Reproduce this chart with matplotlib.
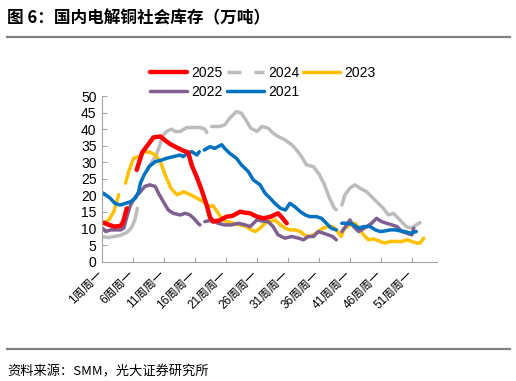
import numpy as np
import matplotlib
matplotlib.use('Agg')
import matplotlib.pyplot as plt
from matplotlib.lines import Line2D

plt.rcParams['font.family'] = ['Liberation Sans', 'Noto Sans CJK SC', 'DejaVu Sans']

nan = np.nan

# week position (1 = week 1) and inventory (10k t)
x_2025 = [0.7, 1.5, 2.5, 3.5, 3.9, 4.5, nan, 6.1, 7.0, 8.0, 8.8, 9.9, 10.9, 11.5, 12.5, 13.6,
          14.4, 15.0, 15.8, 16.6, 17.4, 17.9, 18.4, 19.5, 20.6, 21.5, 22.8, 23.5, 24.4, 25.5,
          26.5, 27.6, 28.9, 29.5, 30.3]
y_2025 = [11.8, 11.2, 10.6, 10.8, 12.0, 16.1, nan, 27.7, 33.0, 35.5, 37.5, 37.8, 36.3, 35.5, 34.5, 33.5,
          33.0, 29.0, 25.5, 21.5, 17.0, 13.5, 12.1, 12.5, 13.6, 13.8, 15.1, 14.8, 14.6, 13.6,
          13.1, 13.5, 14.6, 13.4, 11.6]

x_2024 = [0.6, 1.5, 2.5, 3.5, 4.5, 5.2, 5.8, 6.2, nan,
          7.8, 8.5, 9.2, 9.8, 10.3, 10.9, 11.7, 12.3, 13.1, 14.2, 15.0, 16.3, 17.1, 17.4, nan,
          18.2, 19.5, 20.3, 21.1, 22.2, 23.0, 23.7, 24.5, 25.5, 26.3, 27.3, 28.1, 28.9, 30.0,
          31.1, 31.9, 32.7, 33.5, 34.6, 35.6, 36.4, 37.2, 38.0, 38.3, nan,
          39.2, 39.7, 40.5, 41.3, 42.1, 43.2, 44.0, 44.8, 45.9, 46.7, 47.5, 48.3, 48.8, 49.6,
          50.4, 51.2, 51.8]
y_2024 = [7.5, 7.3, 7.6, 8.0, 8.8, 10.1, 12.6, 16.1, nan,
          27.5, 30.0, 32.0, 35.0, 38.0, 39.3, 40.0, 39.3, 39.3, 40.5, 40.5, 40.5, 40.0, 39.0, nan,
          40.8, 40.8, 41.3, 43.3, 45.3, 44.8, 42.8, 40.3, 39.3, 40.8, 40.3, 38.8, 37.8, 36.8,
          35.3, 33.7, 31.7, 29.2, 28.7, 26.2, 23.2, 19.2, 16.1, 15.7, nan,
          17.1, 20.2, 22.2, 23.2, 22.2, 21.1, 19.6, 18.1, 16.1, 14.1, 14.6, 13.1, 12.1, 10.6,
          10.1, 11.1, 11.8]

x_2023 = [0.7, 1.6, 2.4, 3.2, nan, 4.3, 4.8, 5.6, 6.4, 7.4, 8.3, 9.1, 9.9, 10.7, 11.6, 12.6,
          13.7, 14.8, 15.8, 16.9, 17.7, 18.4, 19.0, 19.8, 20.6, 21.7, 22.8, 23.8, 24.6, 25.2,
          26.0, 26.8, 27.6, 28.4, 29.3, 30.1, 30.8, 31.6, 32.5, 33.3, 34.0, 35.1, 36.1, 36.9,
          37.7, 38.3, 39.1, 39.6, 40.5, 41.3, 41.8, 42.7, 43.5, 44.3, 45.4, 46.2, 47.0, 48.1,
          48.9, 49.7, 50.5, 51.3, 51.8, 52.4]
y_2023 = [11.6, 12.6, 15.1, 20.2, nan, 23.7, 27.2, 31.2, 31.7, 33.2, 33.0, 32.2, 30.2, 26.2, 22.2, 20.2,
          21.1, 20.2, 19.2, 18.1, 16.6, 16.9, 15.3, 13.1, 12.1, 11.6, 11.1, 10.6, 9.6, 9.1,
          10.1, 11.6, 12.1, 12.6, 11.1, 10.1, 9.6, 9.6, 9.1, 7.9, 7.6, 8.6, 10.1, 10.6,
          10.6, 9.6, 7.6, 10.1, 11.1, 11.6, 10.6, 8.1, 6.6, 6.9, 6.1, 5.6, 6.1, 6.1,
          6.1, 6.6, 6.1, 5.6, 5.6, 7.1]

x_2022 = [0.6, 1.1, 1.9, 2.7, 3.5, 4.0, 4.6, 5.1, 5.9, 6.7, 7.4, 8.2, 9.1, 9.6, 10.4, 11.2,
          12.0, 13.1, 13.9, 14.7, 15.3, 16.0, 16.3, nan,
          17.1, 18.4, 19.2, 20.3, 21.4, 22.5, 23.6, 24.4, 25.5, 26.3, 27.3, 28.1, 28.9, 30.0,
          31.1, 32.2, 33.0, 33.8, 34.6, 35.4, 36.2, 37.0, 37.7, 38.3, nan,
          39.2, 40.0, 40.5, 41.1, 41.9, 42.4, 43.2, 44.0, 44.8, 45.6, 46.4, 47.3, 48.1, 48.9,
          49.7, 50.5, 50.8]
y_2022 = [10.1, 9.1, 9.6, 9.6, 9.6, 10.1, 14.1, 17.1, 19.6, 21.1, 22.7, 23.2, 22.7, 20.7, 18.1, 15.6,
          14.6, 14.1, 14.6, 14.1, 13.1, 11.6, 11.1, nan,
          12.1, 12.6, 11.6, 11.1, 11.1, 11.6, 11.1, 10.6, 12.6, 12.3, 12.1, 10.6, 8.1, 7.1,
          7.6, 7.1, 6.6, 7.6, 7.6, 9.1, 8.6, 8.1, 7.6, 6.6, nan,
          9.1, 11.1, 12.6, 10.6, 9.1, 9.6, 10.6, 11.6, 13.1, 12.1, 11.6, 11.1, 10.6, 9.1,
          8.6, 8.1, 10.1]

x_2021 = [0.7, 1.8, 2.6, 3.4, 4.3, 5.1, 5.9, 6.4, 6.7, 7.3, 8.1, 9.1, 10.2, 10.9, 12.0, 13.1,
          13.6, 14.2, 15.0, 15.8, 16.2, nan,
          17.0, 17.9, 18.7, 19.8, 20.3, 21.1, 22.2, 23.0, 24.1, 24.9, 26.0, 26.8, 27.6, 28.4,
          29.3, 30.1, 30.8, 31.6, 32.5, 33.3, 34.0, 35.1, 35.9, 36.7, 37.5, 38.3, nan,
          39.2, 40.2, 41.1, 41.9, 42.7, 43.8, 44.6, 45.4, 46.2, 47.0, 47.8, 48.6, 49.4, 50.2,
          51.2]
y_2021 = [20.7, 19.2, 17.6, 17.1, 17.6, 18.1, 19.2, 21.1, 23.7, 26.2, 28.7, 30.2, 30.7, 31.2, 31.7, 32.2,
          31.7, 32.7, 33.2, 32.2, 33.2, nan,
          33.7, 34.7, 34.2, 35.3, 34.2, 32.7, 31.2, 29.2, 27.2, 24.7, 23.2, 20.7, 19.2, 17.6,
          16.1, 15.6, 17.6, 16.6, 15.1, 14.1, 13.6, 13.6, 13.1, 11.6, 10.1, 9.6, nan,
          11.6, 11.6, 11.1, 10.1, 10.6, 10.6, 9.6, 9.1, 9.3, 9.6, 9.6, 9.3, 9.1, 8.6,
          9.1]

week_labels = ['1周周一', '6周周一', '11周周一', '16周周一', '21周周一', '26周周一',
               '31周周一', '36周周一', '41周周一', '46周周一', '51周周一']

c_2025 = '#ff0000'
c_2024 = '#bcbcbc'
c_2023 = '#ffc000'
c_2022 = '#7f5f8f'
c_2021 = '#0070c0'

fig = plt.figure(figsize=(5.16, 3.81), dpi=100)
ax = fig.add_axes([102 / 516, 1 - 261.7 / 381, 334.7 / 516, 165.7 / 381])

kw = dict(solid_capstyle='round', solid_joinstyle='round')
ax.plot(x_2024, y_2024, color=c_2024, lw=2.5, **kw)
ax.plot(x_2023, y_2023, color=c_2023, lw=2.5, **kw)
ax.plot(x_2022, y_2022, color=c_2022, lw=2.5, **kw)
ax.plot(x_2021, y_2021, color=c_2021, lw=2.5, **kw)
ax.plot(x_2025, y_2025, color=c_2025, lw=3.2, **kw)

ax.set_xlim(0.5, 54.5)
ax.set_ylim(0, 50)
ax.set_yticks(np.arange(0, 51, 5))
ax.set_xticks(np.arange(0.5, 51, 5))
ax.set_xticklabels([])
ax.set_xticks(np.arange(1, 52, 5), minor=True)
ax.set_xticklabels(week_labels, minor=True, rotation=45, ha='right', fontsize=8.5)
ax.tick_params(axis='x', which='minor', length=0, pad=5)
ax.tick_params(axis='both', which='major', direction='in', length=3.5, color='#a6a6a6', width=0.8)
ax.tick_params(axis='y', labelsize=10, pad=4)
for s in ['top', 'right']:
    ax.spines[s].set_visible(False)
for s in ['left', 'bottom']:
    ax.spines[s].set_color('#a6a6a6')
    ax.spines[s].set_linewidth(0.8)

# legend, row-major order through column filling
h25 = Line2D([], [], color=c_2025, lw=3.2, solid_capstyle='round')
h24 = Line2D([], [], color=c_2024, lw=2.5, linestyle=(0, (10 / 2.5, 9.4 / 2.5)))
h23 = Line2D([], [], color=c_2023, lw=2.5, solid_capstyle='round')
h22 = Line2D([], [], color=c_2022, lw=2.5, solid_capstyle='round')
h21 = Line2D([], [], color=c_2021, lw=2.5, solid_capstyle='round')
fig.legend([h25, h22, h24, h21, h23], ['2025', '2022', '2024', '2021', '2023'],
           ncol=3, loc='upper left', bbox_to_anchor=(150 / 516, 1 - 66 / 381),
           frameon=False, fontsize=10, handlelength=2.66, handletextpad=0.3,
           columnspacing=0.3, labelspacing=0.37, borderpad=0, borderaxespad=0)

fig.text(7 / 516, 1 - 18 / 381, '图 6：国内电解铜社会库存（万吨）', fontsize=12,
         fontweight='bold', va='center', ha='left', family=['Noto Sans CJK SC'])
fig.text(7 / 516, 1 - 372 / 381, '资料来源：SMM，光大证券研究所', fontsize=9.5,
         va='center', ha='left', family=['Noto Sans CJK SC'])
fig.add_artist(Line2D([7 / 516, 510 / 516], [1 - 36.7 / 381] * 2, color='#808080', lw=1.6))
fig.add_artist(Line2D([7 / 516, 510 / 516], [1 - 349 / 381] * 2, color='#808080', lw=1.6))

fig.savefig('out.png', dpi=100)
